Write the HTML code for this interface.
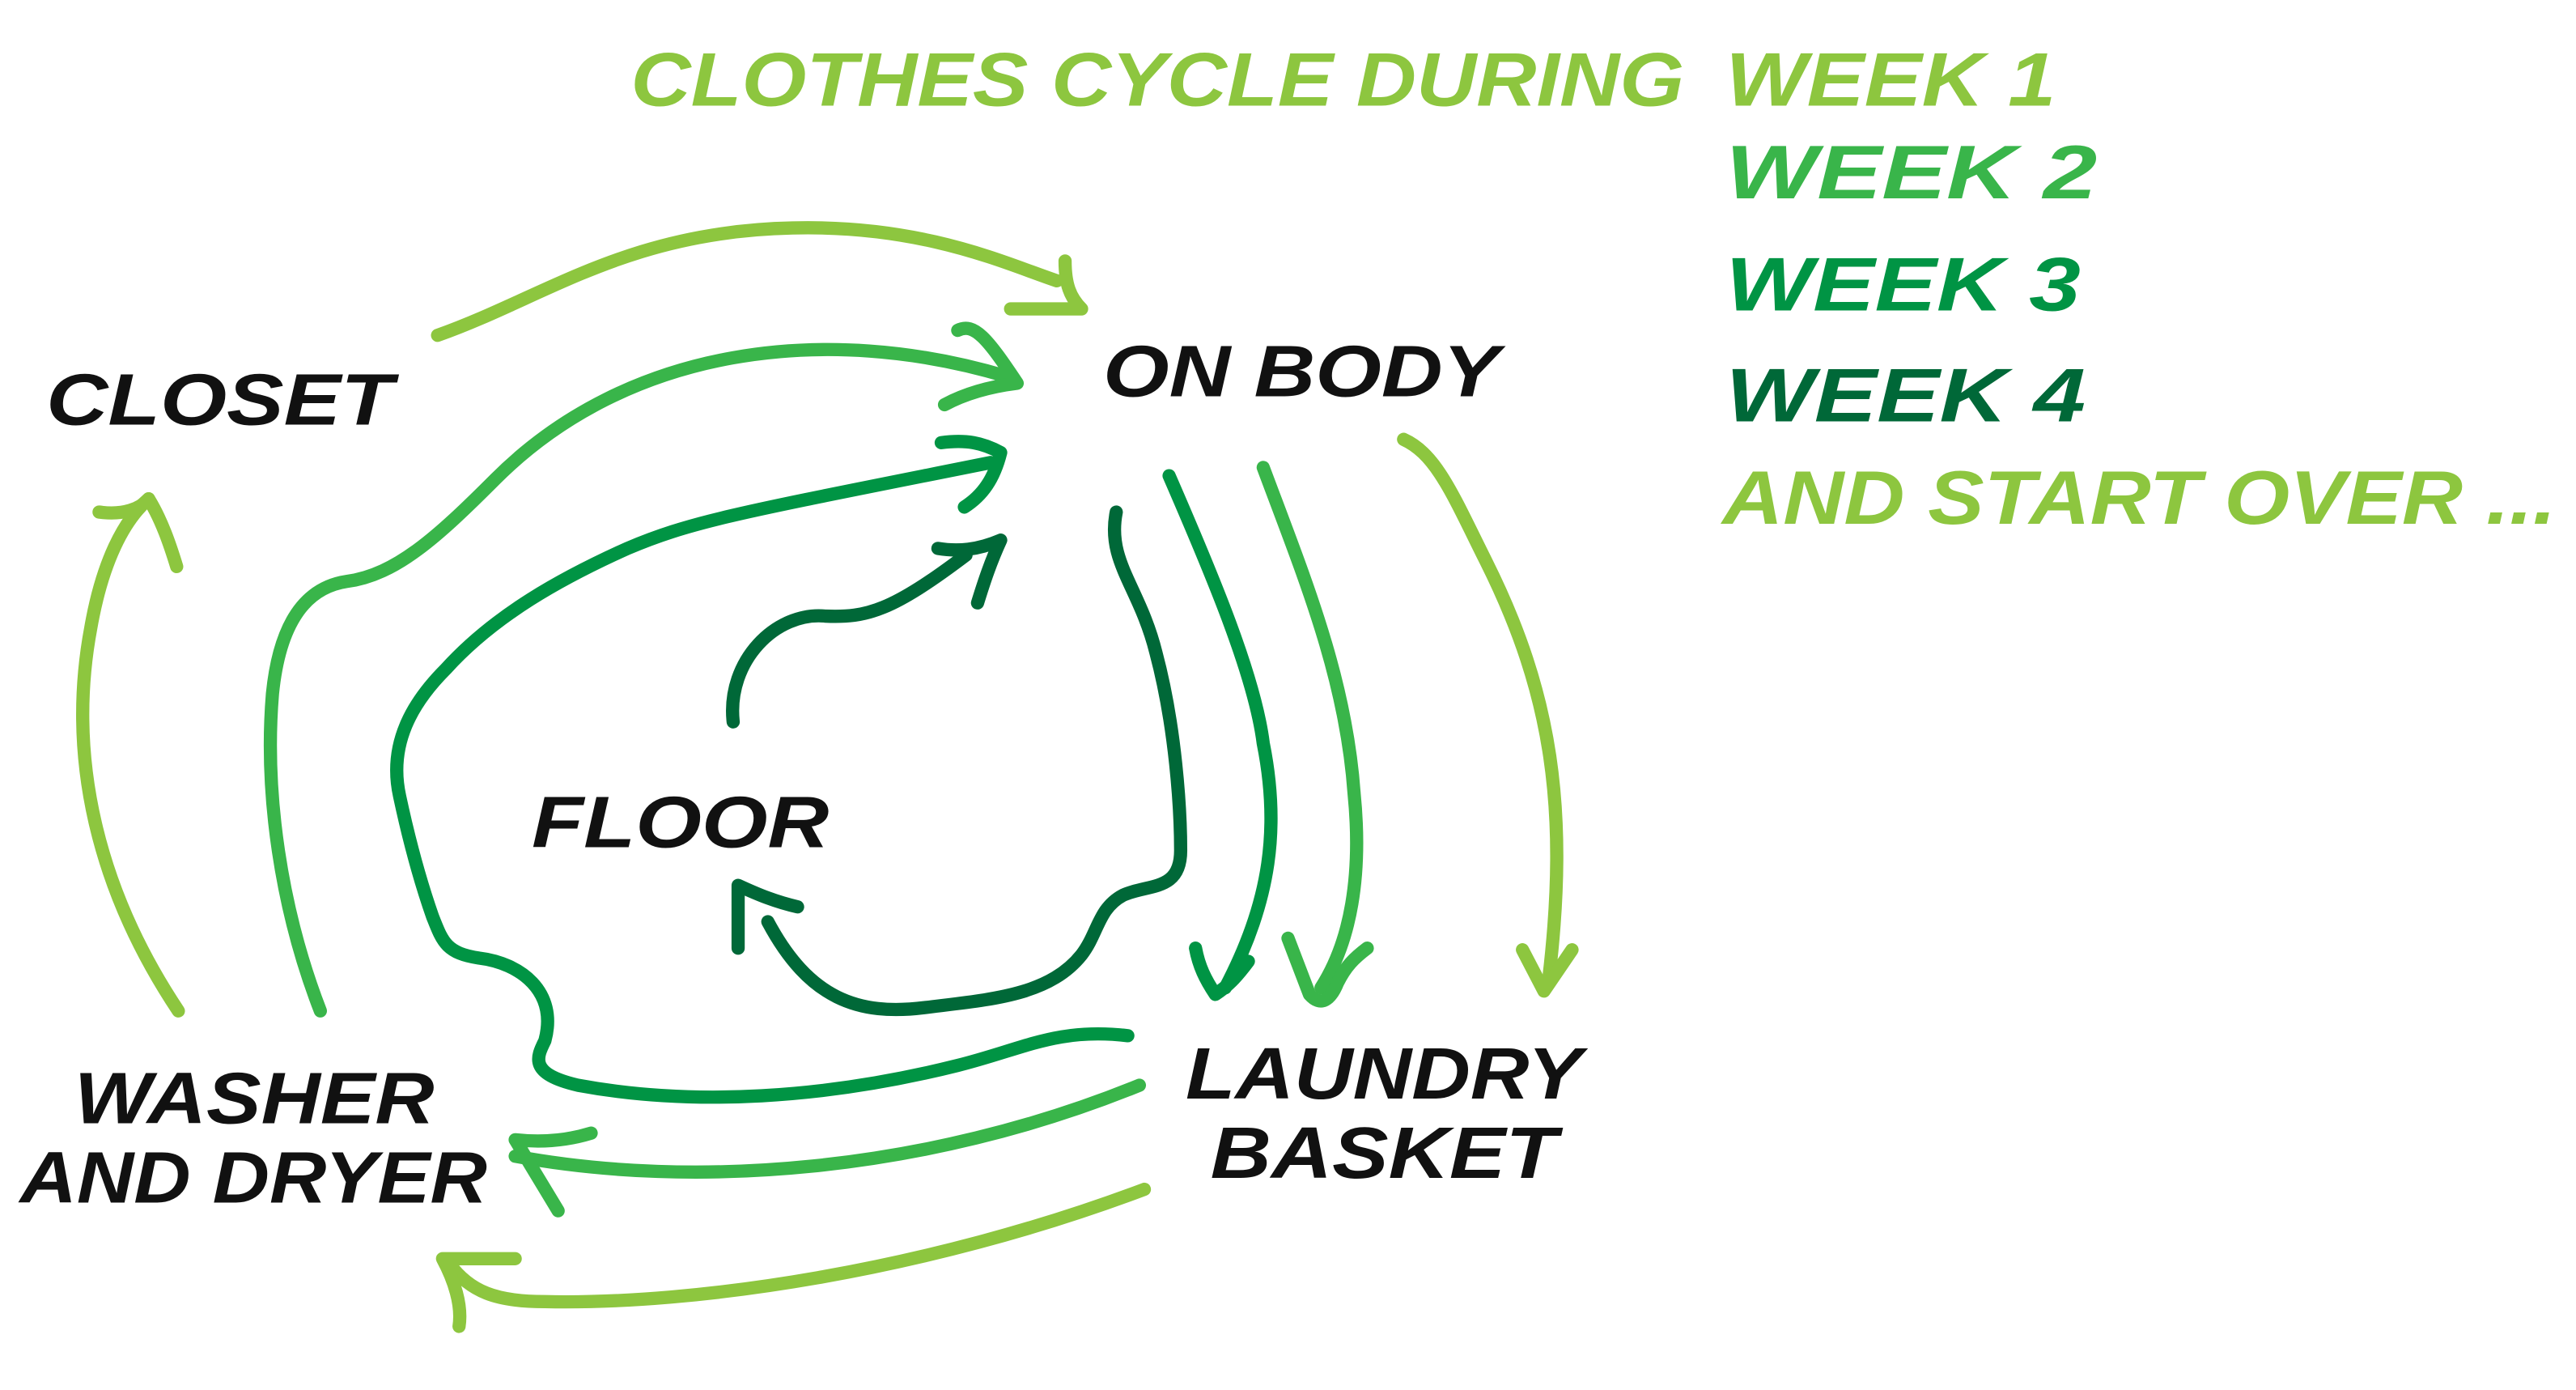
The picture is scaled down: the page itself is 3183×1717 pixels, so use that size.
<!DOCTYPE html>
<html><head><meta charset="utf-8"><style>
html,body{margin:0;padding:0;background:#fff;}
svg{display:block;}
text{font-family:"Liberation Sans",sans-serif;font-weight:bold;font-style:italic;}
</style></head><body>
<svg width="3183" height="1717" viewBox="0 0 1560 841.5" preserveAspectRatio="none" xmlns="http://www.w3.org/2000/svg">
<g fill="none" stroke-width="8" stroke-linecap="round" stroke-linejoin="round">
<g stroke="#8dc63f">
<path d="M265,203 C330,180 380,140 480,138 C560,136 610,160 640,170"/>
<path d="M645,158 C645,172 648,180 655,187 L612,187"/>
<path d="M850,266 C870,275 880,300 900,340 C940,420 950,490 938,592"/>
<path d="M922,575 L935,600 L952,575"/>
<path d="M693,720 C560,770 420,790 330,788 C300,788 285,782 272,765"/>
<path d="M312,762 L268,762 C275,775 280,790 278,803"/>
<path d="M108,612 C60,540 40,460 55,380 C62,340 75,315 90,302"/>
<path d="M60,310 C75,312 85,308 90,302 C98,315 103,330 107,343"/>
</g>
<g stroke="#39b54a">
<path d="M194,612 C170,550 160,480 165,420 C170,370 190,355 210,352 C240,348 265,325 300,290 C380,210 500,195 610,228"/>
<path d="M580,200 C590,195 598,205 616,232 C600,234 585,238 572,245"/>
<path d="M765,283 C790,350 815,410 820,480 C825,530 818,570 800,598"/>
<path d="M780,568 L793,602 C800,610 806,605 810,595 C815,585 820,580 828,574"/>
<path d="M690,657 C560,710 420,720 312,700"/>
<path d="M312,690 C330,692 345,690 358,686 M312,690 L338,733"/>
</g>
<g stroke="#009444">
<path d="M708,288 C735,350 760,410 765,450 C775,500 770,545 742,598"/>
<path d="M724,574 C726,585 730,593 736,602 C745,596 750,590 756,582"/>
<path d="M683,627 C640,622 620,635 580,645 C500,665 420,670 350,657 C320,650 325,640 330,630 C338,600 315,583 290,580 C270,577 268,570 262,555 C255,535 248,510 242,482 C235,450 250,425 270,405 C300,372 340,350 380,332 C420,315 450,310 600,280"/>
<path d="M570,268 C585,266 595,268 606,274 C602,290 595,300 584,307"/>
</g>
<g stroke="#006838">
<path d="M676,310 C670,340 690,355 700,395 C712,440 715,490 715,515 C715,540 695,535 680,542 C665,550 665,565 655,578 C635,603 600,605 560,610 C520,615 490,605 465,558"/>
<path d="M483,549 C470,546 460,542 447,536 L447,574"/>
<path d="M444,437 C440,400 470,370 500,373 C525,374 540,370 585,336"/>
<path d="M568,332 C580,334 592,333 606,327 C600,340 596,352 592,365"/>
</g>
</g>
<g font-size="44" fill="#111">
<text x="28" y="257" textLength="210" lengthAdjust="spacingAndGlyphs">CLOSET</text>
<text x="668" y="240" textLength="240" lengthAdjust="spacingAndGlyphs">ON BODY</text>
<text x="322" y="513" textLength="180" lengthAdjust="spacingAndGlyphs">FLOOR</text>
<text x="718" y="665" textLength="240" lengthAdjust="spacingAndGlyphs">LAUNDRY</text>
<text x="733" y="713" textLength="210" lengthAdjust="spacingAndGlyphs">BASKET</text>
<text x="45" y="680" textLength="218" lengthAdjust="spacingAndGlyphs">WASHER</text>
<text x="12" y="728" textLength="283" lengthAdjust="spacingAndGlyphs">AND DRYER</text>
</g>
<g font-size="46">
<text x="382" y="64" fill="#8dc63f" textLength="638" lengthAdjust="spacingAndGlyphs">CLOTHES CYCLE DURING</text>
<text x="1045" y="64" fill="#8dc63f" textLength="200" lengthAdjust="spacingAndGlyphs">WEEK 1</text>
<text x="1045" y="120" fill="#39b54a" textLength="225" lengthAdjust="spacingAndGlyphs">WEEK 2</text>
<text x="1045" y="188" fill="#009444" textLength="215" lengthAdjust="spacingAndGlyphs">WEEK 3</text>
<text x="1045" y="255" fill="#006838" textLength="218" lengthAdjust="spacingAndGlyphs">WEEK 4</text>
<text x="1043" y="317" fill="#8dc63f" textLength="505" lengthAdjust="spacingAndGlyphs">AND START OVER ...</text>
</g>
</svg>
</body></html>
